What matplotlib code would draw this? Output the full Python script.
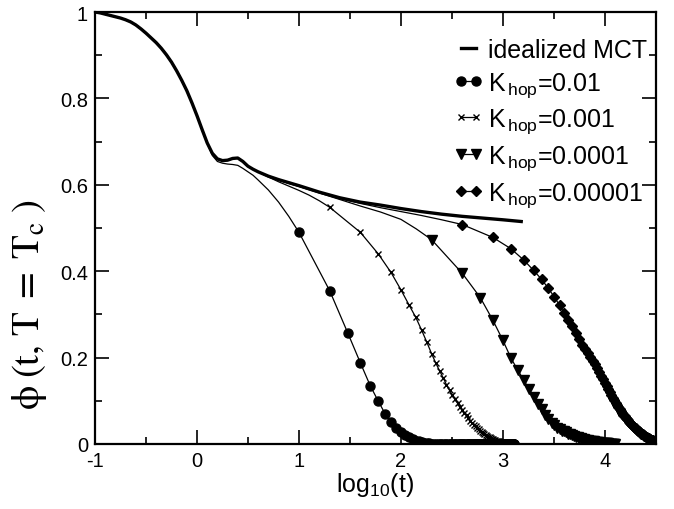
import numpy as np
import matplotlib
matplotlib.use("Agg")
import matplotlib.pyplot as plt
from matplotlib.ticker import MultipleLocator, FuncFormatter

plt.rcParams["font.family"] = ["Liberation Sans", "DejaVu Sans"]
plt.rcParams["mathtext.fontset"] = "custom"
plt.rcParams["mathtext.rm"] = "Liberation Sans"
plt.rcParams["mathtext.it"] = "Liberation Sans"
plt.rcParams["axes.unicode_minus"] = False

# idealized MCT curve (log10 t, phi)
mct_logt = [-1.00, -0.95, -0.90, -0.85, -0.80, -0.75, -0.70, -0.65, -0.60, -0.55,
            -0.50, -0.45, -0.40, -0.35, -0.30, -0.25, -0.20, -0.15, -0.10, -0.05,
            0.00, 0.05, 0.10, 0.15, 0.20, 0.25, 0.30, 0.35, 0.40, 0.45,
            0.50, 0.55, 0.60, 0.70, 0.80, 0.90, 1.00, 1.20, 1.40, 1.60,
            1.80, 2.00, 2.20, 2.40, 2.60, 2.80, 3.00, 3.18]
mct_phi = [1.000, 0.998, 0.995, 0.992, 0.989, 0.986, 0.982, 0.977, 0.970, 0.961,
           0.951, 0.940, 0.929, 0.916, 0.901, 0.884, 0.864, 0.842, 0.818, 0.790,
           0.760, 0.728, 0.697, 0.673, 0.660, 0.656, 0.657, 0.661, 0.662, 0.654,
           0.643, 0.636, 0.630, 0.620, 0.612, 0.605, 0.598, 0.583, 0.570, 0.560,
           0.553, 0.545, 0.538, 0.532, 0.527, 0.523, 0.519, 0.515]

# short-time part of each hopping curve before its first marker
early_logt_01 = [0.15, 0.20, 0.25, 0.30, 0.35, 0.40, 0.45, 0.50, 0.55, 0.60,
                 0.70, 0.80, 0.90]
early_phi_01 = [0.668, 0.654, 0.650, 0.648, 0.647, 0.645, 0.638, 0.630, 0.622, 0.611,
                0.588, 0.560, 0.527]
early_logt_001 = [0.55, 0.60, 0.70, 0.80, 0.90, 1.00, 1.10, 1.20]
early_phi_001 = [0.636, 0.630, 0.618, 0.607, 0.597, 0.587, 0.576, 0.563]
early_logt_0001 = [0.55, 0.60, 0.70, 0.80, 0.90, 1.00, 1.20, 1.40, 1.60, 1.80,
                   2.00, 2.15]
early_phi_0001 = [0.636, 0.630, 0.619, 0.611, 0.603, 0.596, 0.581, 0.566, 0.551, 0.537,
                  0.520, 0.498]
early_logt_00001 = [0.55, 0.60, 0.70, 0.80, 0.90, 1.00, 1.20, 1.40, 1.60, 1.80,
                    2.00, 2.20, 2.40]
early_phi_00001 = [0.636, 0.630, 0.619, 0.611, 0.604, 0.597, 0.582, 0.568, 0.557, 0.547,
                   0.538, 0.529, 0.519]

# marker data: phi at t = step * n
step_01, step_001, step_0001, step_00001 = 10, 20, 200, 400
phi_01 = ([0.490, 0.355, 0.258, 0.188, 0.135, 0.099, 0.070, 0.051, 0.037, 0.027,
           0.020, 0.015, 0.011, 0.008, 0.006, 0.004, 0.003, 0.002, 0.002, 0.001]
          + [0.001] * 10 + [0.0] * 100)
phi_001 = [0.548, 0.490, 0.440, 0.397, 0.357, 0.322, 0.293, 0.263, 0.235, 0.209,
           0.187, 0.169, 0.153, 0.137, 0.124, 0.113, 0.103, 0.094, 0.086, 0.079,
           0.072, 0.066, 0.059, 0.054, 0.049, 0.045, 0.041, 0.037, 0.034, 0.031,
           0.028, 0.025, 0.023, 0.021, 0.019, 0.017, 0.015, 0.014, 0.012, 0.011,
           0.010, 0.009, 0.008, 0.007, 0.006, 0.006, 0.005, 0.005, 0.004, 0.004,
           0.003, 0.003, 0.003, 0.002, 0.002, 0.002, 0.002, 0.001, 0.001, 0.001,
           0.001, 0.001, 0.001]
phi_0001 = [0.473, 0.395, 0.339, 0.286, 0.240, 0.199, 0.171, 0.148, 0.127, 0.109,
            0.093, 0.080, 0.068, 0.058, 0.049, 0.043, 0.038, 0.034, 0.031, 0.029,
            0.027, 0.024, 0.022, 0.020, 0.018, 0.017, 0.016, 0.014, 0.013, 0.012,
            0.011, 0.010, 0.009, 0.009, 0.008, 0.007, 0.007, 0.006, 0.006, 0.005,
            0.005, 0.004, 0.004, 0.004, 0.003, 0.003, 0.003, 0.003, 0.002, 0.002,
            0.002, 0.002, 0.002, 0.002, 0.001, 0.001, 0.001, 0.001, 0.001, 0.001,
            0.001, 0.001, 0.001]
phi_00001 = [0.508, 0.478, 0.452, 0.426, 0.402, 0.381, 0.360, 0.340, 0.321, 0.303,
             0.287, 0.272, 0.257, 0.243, 0.230, 0.220, 0.211, 0.202, 0.193, 0.184,
             0.175, 0.166, 0.158, 0.150, 0.142, 0.134, 0.127, 0.120, 0.113, 0.107,
             0.101, 0.095, 0.090, 0.085, 0.080, 0.076, 0.072, 0.068, 0.064, 0.061,
             0.058, 0.055, 0.052, 0.049, 0.047, 0.044, 0.042, 0.040, 0.038, 0.036,
             0.034, 0.032, 0.030, 0.029, 0.027, 0.026, 0.024, 0.023, 0.022, 0.020,
             0.019, 0.018, 0.017, 0.016, 0.015, 0.014, 0.013, 0.013, 0.012, 0.011,
             0.010, 0.010, 0.009, 0.009, 0.008, 0.008, 0.007, 0.007, 0.006]

labels = ["K$_{\\rm \\,hop}$=0.01", "K$_{\\rm \\,hop}$=0.001",
          "K$_{\\rm \\,hop}$=0.0001", "K$_{\\rm \\,hop}$=0.00001"]

fig = plt.figure(figsize=(6.74, 5.10), dpi=100)
ax = fig.add_axes([0.141, 0.1275, 0.832, 0.847])

shared = [i for i, v in enumerate(mct_logt) if v <= 0.5]
base_x = [mct_logt[i] for i in shared]
base_y = [mct_phi[i] for i in shared]
base01 = [i for i, v in enumerate(mct_logt) if v <= 0.10]

series = [
    ([mct_logt[i] for i in base01] + early_logt_01, [mct_phi[i] for i in base01] + early_phi_01,
     step_01, phi_01, "o", 6.5),
    (base_x + early_logt_001, base_y + early_phi_001, step_001, phi_001, "x", 4.5),
    (base_x + early_logt_0001, base_y + early_phi_0001, step_0001, phi_0001, "v", 6.5),
    (base_x + early_logt_00001, base_y + early_phi_00001, step_00001, phi_00001, "D", 5.0),
]

handles = []
mct_line, = ax.plot(mct_logt, mct_phi, color="black", lw=2.4, label="idealized MCT")
handles.append(mct_line)
for (ex, ey, step, phi, mk, ms), lab in zip(series, labels):
    t = step * np.arange(1, len(phi) + 1)
    mx = np.log10(t)
    ax.plot(list(ex) + list(mx), list(ey) + list(phi), color="black", lw=0.9)
    ax.plot(mx, phi, ls="none", marker=mk, ms=ms, color="black", mew=1.0)
    h, = ax.plot([], [], color="black", lw=0.9, marker=mk, ms=ms, mew=1.0, label=lab)
    handles.append(h)

ax.set_xlim(-1, 4.5)
ax.set_ylim(0, 1)
ax.xaxis.set_major_locator(MultipleLocator(1))
ax.xaxis.set_minor_locator(MultipleLocator(0.5))
ax.yaxis.set_major_locator(MultipleLocator(0.2))
ax.yaxis.set_minor_locator(MultipleLocator(0.1))
ax.xaxis.set_major_formatter(FuncFormatter(lambda v, p: "%g" % round(v, 2)))
ax.yaxis.set_major_formatter(FuncFormatter(lambda v, p: "%g" % round(v, 2)))
ax.tick_params(which="both", direction="in", top=True, right=True, width=1.2)
ax.tick_params(which="major", length=10, labelsize=14.5, pad=5)
ax.tick_params(which="minor", length=5)
for s in ax.spines.values():
    s.set_linewidth(1.6)

ax.set_xlabel("log$_{10}$(t)", fontsize=18, labelpad=0)
ylab = ax.set_ylabel("$\\mathrm{\u03d5\\;(t,\\!\\;T\\;=\\;T_c\\;)}$", fontsize=28)
ylab.set_math_fontfamily("stix")
ax.yaxis.set_label_coords(-0.082, 0.325)

ax.legend(handles=handles, loc="upper right", bbox_to_anchor=(1.012, 0.975), frameon=False,
          fontsize=18, numpoints=2, handlelength=1.2, handletextpad=0.2,
          labelspacing=0.32, borderaxespad=0.2)

fig.savefig("out.png", dpi=100)
